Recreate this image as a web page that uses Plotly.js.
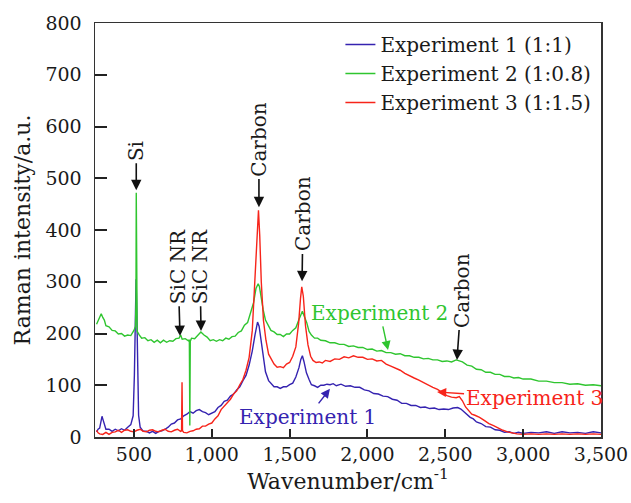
<!DOCTYPE html>
<html>
<head>
<meta charset="utf-8">
<script src="https://cdn.plot.ly/plotly-3.0.1.min.js"></script>
<style>html,body{margin:0;padding:0;background:#fff;}#chart{width:631px;height:503px;}</style>
</head>
<body>
<div id="chart"></div>
<script>
// Experiment 2 (1:0.8) - green
const exp2X = [
260,270,280,290,300,310,320,340,360,380,
400,420,440,460,480,500,510,513,515,517,
521,535,550,570,590,610,630,650,670,690,
710,730,750,770,790,800,810,830,850,856,
859,862,870,890,910,930,950,970,990,1010,
1030,1050,1070,1090,1110,1130,1150,1170,1190,1210,
1230,1250,1268,1284,1298,1306,1316,1330,1345,1362,
1380,1400,1420,1440,1460,1480,1500,1520,1540,1560,
1572,1582,1592,1610,1625,1640,1660,1680,1700,1730,
1760,1790,1820,1850,1880,1910,1940,1970,2000,2030,
2060,2090,2120,2150,2180,2210,2240,2270,2300,2330,
2360,2390,2420,2450,2480,2510,2540,2570,2590,2610,
2640,2670,2700,2730,2760,2790,2820,2850,2880,2910,
2940,2970,3000,3050,3100,3150,3200,3250,3300,3350,
3400,3450,3500];
const exp2Y = [
218,224,229,238,231,226,215,213,206,205,
199,200,195,197,196,206,214,262,472,240,
204,197,191,192,186,188,183,187,182,187,
183,186,185,190,191,197,189,190,186,188,
22,185,191,190,197,203,197,193,186,188,
185,188,186,191,189,194,195,202,205,216,
221,240,259,287,296,291,268,246,226,216,
206,203,198,198,194,199,199,206,211,227,
237,243,235,221,204,197,191,191,187,186,
182,182,179,179,175,176,173,173,169,170,
166,167,163,163,160,161,157,157,154,154,
151,152,149,149,146,147,145,149,147,145,
139,137,131,130,125,125,121,121,117,117,
114,115,112,112,108,108,105,105,102,103,
100,101,99];

// Experiment 1 (1:1) - blue
const exp1X = [
260,270,280,290,295,300,310,320,340,360,
380,400,420,440,460,480,495,503,510,514,
518,524,530,540,560,580,600,620,640,660,
680,700,720,740,760,780,800,820,840,860,
880,900,920,940,960,980,1000,1020,1040,1060,
1080,1100,1120,1140,1160,1180,1200,1220,1240,1260,
1278,1294,1304,1316,1330,1345,1365,1385,1400,1420,
1440,1460,1480,1500,1520,1540,1560,1572,1582,1592,
1608,1625,1640,1660,1680,1700,1720,1740,1760,1780,
1800,1830,1860,1890,1920,1950,1980,2010,2040,2070,
2100,2130,2160,2190,2220,2250,2280,2310,2340,2370,
2400,2430,2460,2490,2520,2550,2580,2600,2620,2640,
2660,2680,2700,2730,2760,2790,2820,2850,2880,2910,
2940,2970,3000,3050,3100,3150,3200,3250,3300,3350,
3400,3450,3500];
const exp1Y = [
10,15,17,31,40,35,23,15,15,11,
15,12,16,13,19,24,41,120,240,305,
250,118,42,19,11,11,8,11,7,11,
12,15,19,25,27,33,35,41,44,49,
46,51,53,49,47,43,46,49,57,61,
69,71,79,83,91,97,109,119,139,166,
198,222,214,186,150,126,109,103,97,97,
94,97,97,101,104,116,134,150,157,146,
124,111,101,99,96,100,100,102,101,103,
99,102,98,99,96,96,91,89,84,83,
79,78,73,71,65,65,61,61,57,58,
55,56,53,54,53,56,57,54,48,43,
38,35,29,26,20,19,14,13,9,10,
7,9,7,9,8,10,7,10,8,9,
7,10,8];

// Experiment 3 (1:1.5) - red
const exp3X = [
260,270,280,300,320,340,360,380,400,420,
440,460,480,500,520,540,560,580,600,620,
640,660,680,700,720,740,760,780,800,806,
809,812,820,840,860,880,900,920,940,960,
980,1000,1020,1040,1060,1080,1100,1120,1140,1160,
1180,1200,1220,1240,1260,1276,1290,1300,1308,1318,
1332,1348,1365,1385,1400,1420,1440,1460,1480,1500,
1520,1540,1558,1570,1578,1588,1602,1618,1635,1650,
1670,1690,1710,1730,1760,1790,1820,1850,1880,1910,
1940,1970,2000,2030,2060,2090,2120,2150,2180,2210,
2240,2270,2300,2330,2360,2390,2420,2450,2480,2510,
2540,2570,2590,2610,2630,2650,2670,2690,2720,2750,
2780,2810,2840,2870,2900,2930,2960,3000,3050,3100,
3150,3200,3250,3300,3350,3400,3450,3500];
const exp3Y = [
13,8,6,5,9,5,9,10,13,9,
13,14,11,10,13,15,11,10,13,14,
11,10,13,15,11,10,13,15,11,12,
106,12,9,8,11,12,15,16,21,21,
25,27,35,41,53,59,67,73,83,89,
101,111,129,154,205,300,400,438,390,300,
225,187,160,148,141,135,136,134,141,144,
156,174,220,268,290,272,215,178,156,148,
144,145,143,148,146,151,150,155,153,157,
154,154,150,151,147,148,141,137,133,129,
123,118,114,110,105,100,96,92,86,80,
77,76,78,70,58,50,44,42,38,32,
26,22,17,13,10,8,6,5,6,5,
6,5,6,5,6,5,6,5];

const seriesNames = ['Experiment 1 (1:1)', 'Experiment 2 (1:0.8)', 'Experiment 3 (1:1.5)'];
const xTicks = [500, 1000, 1500, 2000, 2500, 3000, 3500];
const xTickLabels = ['500', '1,000', '1,500', '2,000', '2,500', '3,000', '3,500'];
const yTicks = [0, 100, 200, 300, 400, 500, 600, 700, 800];

const BLUE = '#3523b0', GREEN = '#2fc52f', RED = '#f7241a';
const FONT = 'DejaVu Serif';

const traces = [
  {x: exp1X, y: exp1Y, name: seriesNames[0], type: 'scatter', mode: 'lines', line: {color: BLUE, width: 1.4}},
  {x: exp2X, y: exp2Y, name: seriesNames[1], type: 'scatter', mode: 'lines', line: {color: GREEN, width: 1.4}},
  {x: exp3X, y: exp3Y, name: seriesNames[2], type: 'scatter', mode: 'lines', line: {color: RED, width: 1.4}}
];

// peak labels: [label, arrow tip x, arrow tip y, text centre x, text centre y]
const peakLabels = [
  ['Si', 515, 477, 515, 553],
  ['SiC NR', 796, 195, 783, 330],
  ['SiC NR', 931, 205, 924, 330],
  ['Carbon', 1303, 444, 1303, 576],
  ['Carbon', 1580, 301, 1586, 431],
  ['Carbon', 2575, 149, 2607, 284]
];
// colored series labels: [label, colour, tip x, tip y, text centre x, text centre y]
const seriesLabels = [
  ['Experiment 2', GREEN, 2132, 168, 2080, 240],
  ['Experiment 3', RED, 2447, 87, 3070, 75],
  ['Experiment 1', BLUE, 1759, 93, 1618, 39]
];
const annotations = [];
peakLabels.forEach(p => {
  annotations.push({x: p[1], y: p[2], xref: 'x', yref: 'y', axref: 'x', ayref: 'y', ax: p[3], ay: p[4],
    text: p[0], showarrow: true, textangle: -90,
    font: {family: FONT, size: 20, color: '#1a1a1a'},
    arrowhead: 2, arrowsize: 1.3, arrowwidth: 1.6, arrowcolor: '#111', standoff: 0, startstandoff: 1});
});
seriesLabels.forEach(s => {
  annotations.push({x: s[2], y: s[3], xref: 'x', yref: 'y', axref: 'x', ayref: 'y', ax: s[4], ay: s[5],
    text: s[0], showarrow: true,
    font: {family: FONT, size: 20, color: s[1]},
    arrowhead: 2, arrowsize: 1.3, arrowwidth: 1.4, arrowcolor: s[1], standoff: 0, startstandoff: 0});
});

const layout = {
  width: 631, height: 503,
  margin: {l: 95, r: 30, t: 23, b: 66},
  paper_bgcolor: '#fff', plot_bgcolor: '#fff',
  font: {family: FONT, color: '#1a1a1a', size: 19},
  showlegend: true,
  legend: {x: 0.485, y: 0.995, xanchor: 'left', yanchor: 'top', bgcolor: 'rgba(0,0,0,0)',
    font: {family: FONT, size: 20, color: '#1a1a1a'}, tracegroupgap: 0},
  xaxis: {
    range: [250, 3500], tickvals: xTicks, ticktext: xTickLabels,
    ticks: 'inside', ticklen: 8, tickwidth: 2, tickcolor: '#222',
    showline: true, linecolor: '#333', linewidth: 1.5, mirror: true,
    showgrid: false, zeroline: false,
    tickfont: {family: FONT, size: 19, color: '#1a1a1a'},
    title: {text: 'Wavenumber/cm<sup>-1</sup>', font: {family: FONT, size: 22, color: '#1a1a1a'}, standoff: 8}
  },
  yaxis: {
    range: [0, 800], tickvals: yTicks,
    ticks: 'inside', ticklen: 12, tickwidth: 2, tickcolor: '#222',
    showline: true, linecolor: '#333', linewidth: 1.5, mirror: true,
    showgrid: false, zeroline: false, ticklabelstandoff: 8,
    tickfont: {family: FONT, size: 19, color: '#1a1a1a'},
    title: {text: 'Raman intensity/a.u.', font: {family: FONT, size: 22, color: '#1a1a1a'}, standoff: 8}
  },
  annotations: annotations
};

Plotly.newPlot('chart', traces, layout, {staticPlot: true, displayModeBar: false});
</script>
</body>
</html>
